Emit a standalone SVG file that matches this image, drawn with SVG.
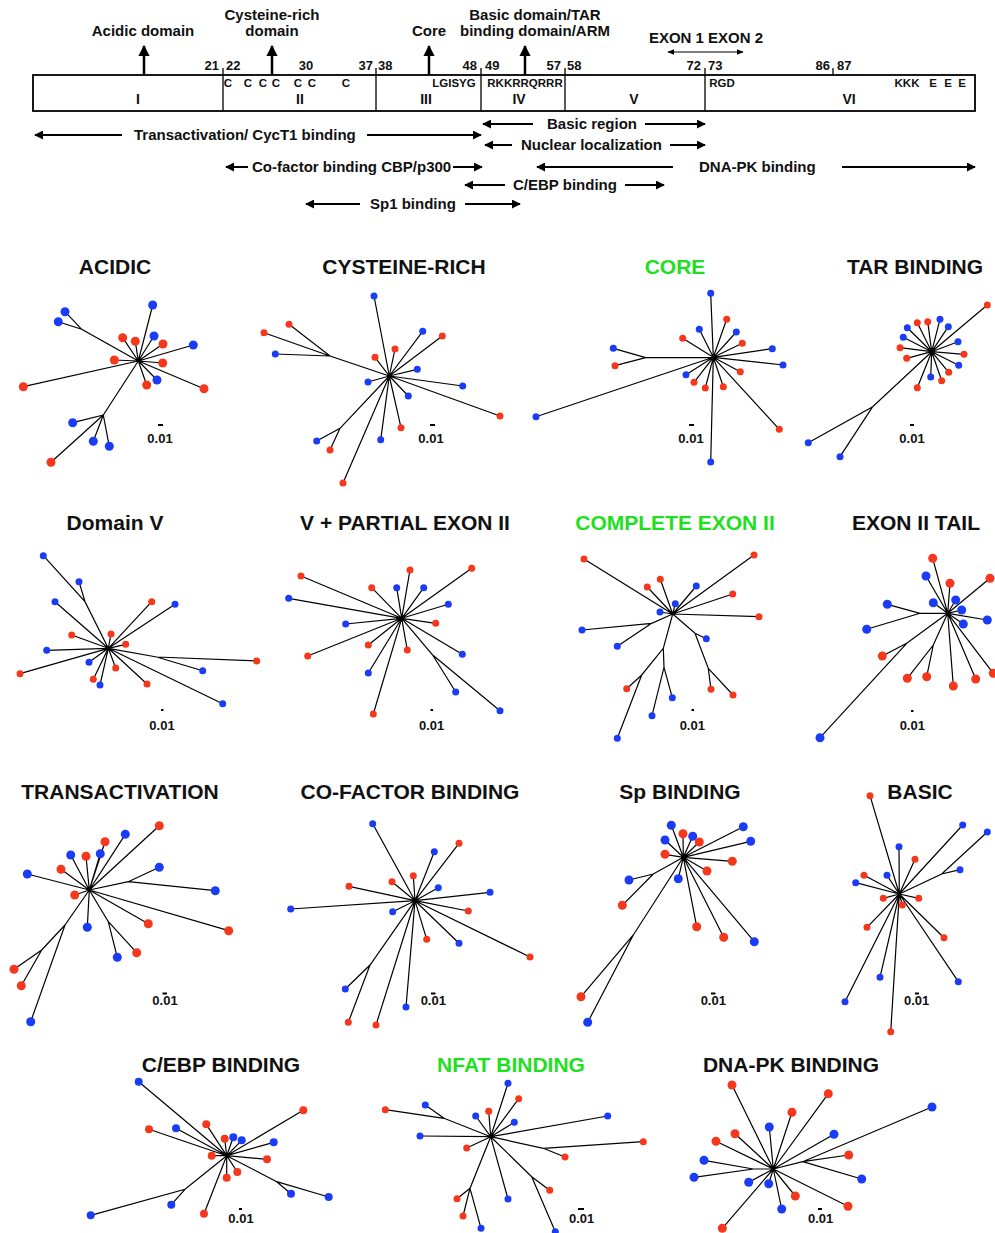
<svg xmlns="http://www.w3.org/2000/svg" width="995" height="1233" viewBox="0 0 995 1233">
<defs>
<style>
text{font-family:'Liberation Sans',Arial,sans-serif;font-weight:bold;fill:#111}
.lab{font-size:15px}
.num{font-size:13px}
.aa{font-size:11.5px}
.rn{font-size:14px;text-anchor:middle}
.ttl{font-size:21px;text-anchor:middle}
.grn{fill:#1ee01e}
.sc{font-size:13px;text-anchor:middle}
.e{stroke:#000;stroke-width:1.2;fill:none}
.r{fill:#f5381c}
.b{fill:#1b3cf7}
.ar{stroke:#000;stroke-width:2;fill:none}
.bar{stroke:#000;stroke-width:2}
</style>
<marker id="ah" viewBox="0 0 10 10" refX="9" refY="5" markerWidth="4.5" markerHeight="4.5" orient="auto-start-reverse"><path d="M0,0 L10,5 L0,10 z" fill="#000"/></marker>
<marker id="sh" viewBox="0 0 10 10" refX="9" refY="5" markerWidth="7" markerHeight="7" orient="auto-start-reverse"><path d="M0,1 L10,5 L0,9 z" fill="#000"/></marker>
</defs>
<rect width="995" height="1233" fill="#fff"/>

<!-- Domain map -->
<g id="domain-map">
<rect x="33" y="75" width="942" height="36" fill="none" stroke="#000" stroke-width="1.8"/>
<g stroke="#000" stroke-width="1.3">
<line x1="223" y1="68" x2="223" y2="111"/>
<line x1="376" y1="68" x2="376" y2="111"/>
<line x1="481" y1="68" x2="481" y2="111"/>
<line x1="565" y1="68" x2="565" y2="111"/>
<line x1="705" y1="68" x2="705" y2="111"/>
<line x1="833" y1="68" x2="833" y2="75"/>
</g>
<g class="num">
<text x="219" y="70" text-anchor="end">21</text><text x="226" y="70">22</text>
<text x="306" y="70" text-anchor="middle">30</text>
<text x="373" y="70" text-anchor="end">37</text><text x="378" y="70">38</text>
<text x="477" y="70" text-anchor="end">48</text><text x="485" y="70">49</text>
<text x="561" y="70" text-anchor="end">57</text><text x="567" y="70">58</text>
<text x="701" y="70" text-anchor="end">72</text><text x="708" y="70">73</text>
<text x="830" y="70" text-anchor="end">86</text><text x="837" y="70">87</text>
</g>
<g class="aa" text-anchor="middle">
<text x="228" y="87">C</text><text x="248" y="87">C</text><text x="263" y="87">C</text><text x="276" y="87">C</text><text x="298" y="87">C</text><text x="312" y="87">C</text><text x="346" y="87">C</text>
<text x="454" y="87">LGISYG</text><text x="525" y="87">RKKRRQRRR</text><text x="722" y="87">RGD</text>
<text x="907" y="87">KKK</text><text x="933" y="87">E</text><text x="948" y="87">E</text><text x="962" y="87">E</text>
</g>
<g>
<text class="rn" x="138" y="104">I</text><text class="rn" x="300" y="104">II</text><text class="rn" x="426" y="104">III</text>
<text class="rn" x="519" y="104">IV</text><text class="rn" x="634" y="104">V</text><text class="rn" x="849" y="104">VI</text>
</g>
</g>

<g id="domain-labels" class="lab" text-anchor="middle">
<text x="143" y="36">Acidic domain</text>
<text x="272" y="20">Cysteine-rich</text><text x="272" y="36">domain</text>
<text x="429" y="36">Core</text>
<text x="535" y="20">Basic domain/TAR</text><text x="535" y="36">binding domain/ARM</text>
<text x="706" y="43">EXON 1 EXON 2</text>
</g>

<g id="connectors">
<g stroke="#000" stroke-width="2.5" marker-end="url(#ah)">
<line x1="144" y1="75" x2="144" y2="46"/>
<line x1="272" y1="75" x2="272" y2="46"/>
<line x1="429" y1="75" x2="429" y2="46"/>
<line x1="525" y1="75" x2="525" y2="46"/>
</g>
<line x1="668" y1="52" x2="743" y2="52" stroke="#000" stroke-width="1" marker-start="url(#sh)" marker-end="url(#sh)"/>
<g class="ar" marker-end="url(#ah)">
<line x1="122" y1="135" x2="35" y2="135"/><line x1="367" y1="135" x2="481" y2="135"/>
<line x1="533" y1="124" x2="483" y2="124"/><line x1="645" y1="124" x2="705" y2="124"/>
<line x1="512" y1="145" x2="485" y2="145"/><line x1="670" y1="145" x2="705" y2="145"/>
<line x1="248" y1="167" x2="226" y2="167"/><line x1="453" y1="167" x2="482" y2="167"/>
<line x1="673" y1="167" x2="537" y2="167"/><line x1="842" y1="167" x2="975" y2="167"/>
<line x1="505" y1="185" x2="465" y2="185"/><line x1="625" y1="185" x2="664" y2="185"/>
<line x1="360" y1="204" x2="306" y2="204"/><line x1="465" y1="204" x2="520" y2="204"/>
</g>
</g>

<g id="region-labels" class="lab">
<text x="134" y="140">Transactivation/ CycT1 binding</text>
<text x="547" y="129">Basic region</text>
<text x="521" y="150">Nuclear localization</text>
<text x="252" y="172">Co-factor binding CBP/p300</text>
<text x="699" y="172">DNA-PK binding</text>
<text x="513" y="190">C/EBP binding</text>
<text x="370" y="209">Sp1 binding</text>
</g>

<!-- Row 1 -->
<g id="tree-acidic">
<text class="ttl" x="115" y="274">ACIDIC</text>
<path class="e" d="M138.3,361L152.7,305M138.3,361L81.7,329.3L65,311.7M81.7,329.3L58.3,321.7M138.3,361L122.7,337.7M138.3,361L135.3,341.3M138.3,361L154,336M138.3,361L163,344M138.3,361L193.3,345M138.3,361L114.3,360M138.3,361L162.7,363M138.3,361L157,380M138.3,361L146.7,385M138.3,361L204,388.7M138.3,361L23.3,386.7M138.3,361L103.3,415L72.7,422.7M103.3,415L93.3,441.3M103.3,415L109.3,446.3M103.3,415L51,462.3"/>
<g>
<circle class="b" cx="152.7" cy="305" r="4.5"/><circle class="b" cx="65" cy="311.7" r="4.5"/><circle class="b" cx="58.3" cy="321.7" r="4.5"/>
<circle class="r" cx="122.7" cy="337.7" r="4.5"/><circle class="r" cx="135.3" cy="341.3" r="4.5"/><circle class="b" cx="154" cy="336" r="4.5"/>
<circle class="r" cx="163" cy="344" r="4.5"/><circle class="b" cx="193.3" cy="345" r="4.5"/><circle class="r" cx="114.3" cy="360" r="4.5"/>
<circle class="r" cx="162.7" cy="363" r="4.5"/><circle class="b" cx="157" cy="380" r="4.5"/><circle class="r" cx="146.7" cy="385" r="4.5"/>
<circle class="r" cx="204" cy="388.7" r="4.5"/><circle class="r" cx="23.3" cy="386.7" r="4.5"/><circle class="b" cx="72.7" cy="422.7" r="4.5"/>
<circle class="b" cx="93.3" cy="441.3" r="4.5"/><circle class="b" cx="109.3" cy="446.3" r="4.5"/><circle class="r" cx="51" cy="462.3" r="4.5"/>
</g>
<line class="bar" x1="158" y1="425" x2="163" y2="425"/><text class="sc" x="160" y="443">0.01</text>
</g>

<g id="tree-cysteine-rich">
<text class="ttl" x="404" y="274">CYSTEINE-RICH</text>
<path class="e" d="M389.3,376L374,296M389.3,376L330,356L289,324.3M330,356L264,332.7M330,356L275.3,354M389.3,376L422.7,331.3M389.3,376L442.3,336M389.3,376L395,349M389.3,376L375,357.3M389.3,376L417.3,369.3M389.3,376L462.7,386M389.3,376L368,382M389.3,376L408.3,396M389.3,376L401,427.7M389.3,376L380.7,439.7M389.3,376L500,416M389.3,376L340,428.3L316.7,441M340,428.3L330,450M389.3,376L343,483"/>
<g>
<circle class="b" cx="374" cy="296" r="3.5"/><circle class="r" cx="289" cy="324.3" r="3.5"/><circle class="r" cx="264" cy="332.7" r="3.5"/>
<circle class="b" cx="275.3" cy="354" r="3.5"/><circle class="b" cx="422.7" cy="331.3" r="3.5"/><circle class="r" cx="442.3" cy="336" r="3.5"/>
<circle class="r" cx="395" cy="349" r="3.5"/><circle class="r" cx="375" cy="357.3" r="3.5"/><circle class="b" cx="417.3" cy="369.3" r="3.5"/>
<circle class="b" cx="462.7" cy="386" r="3.5"/><circle class="b" cx="368" cy="382" r="3.5"/><circle class="b" cx="408.3" cy="396" r="3.5"/>
<circle class="r" cx="401" cy="427.7" r="3.5"/><circle class="b" cx="380.7" cy="439.7" r="3.5"/><circle class="r" cx="500" cy="416" r="3.5"/>
<circle class="b" cx="316.7" cy="441" r="3.5"/><circle class="r" cx="330" cy="450" r="3.5"/><circle class="r" cx="343" cy="483" r="3.5"/>
</g>
<line class="bar" x1="430" y1="425" x2="435" y2="425"/><text class="sc" x="431" y="443">0.01</text>
</g>

<g id="tree-core">
<text class="ttl grn" x="675" y="274">CORE</text>
<path class="e" d="M713.3,357.3L710.7,293.3M713.3,357.3L726.7,319.3M713.3,357.3L699.3,329.3M713.3,357.3L736.3,332M713.3,357.3L682.7,338.3M713.3,357.3L742.3,343.3M713.3,357.3L772.3,348.7M713.3,357.3L783,365M713.3,357.3L740.3,371.7M713.3,357.3L686,374.7M713.3,357.3L694,382.3M713.3,357.3L705.3,388M713.3,357.3L723.3,386.7M713.3,357.3L779.3,429.3M713.3,357.3L710.7,462M713.3,357.3L536,416.7M713.3,357.3L645.7,357.7L613.3,348.3M645.7,357.7L615,365.7"/>
<g>
<circle class="b" cx="710.7" cy="293.3" r="3.5"/><circle class="r" cx="726.7" cy="319.3" r="3.5"/><circle class="b" cx="699.3" cy="329.3" r="3.5"/>
<circle class="b" cx="736.3" cy="332" r="3.5"/><circle class="r" cx="682.7" cy="338.3" r="3.5"/><circle class="r" cx="742.3" cy="343.3" r="3.5"/>
<circle class="b" cx="772.3" cy="348.7" r="3.5"/><circle class="b" cx="783" cy="365" r="3.5"/><circle class="r" cx="740.3" cy="371.7" r="3.5"/>
<circle class="b" cx="686" cy="374.7" r="3.5"/><circle class="r" cx="694" cy="382.3" r="3.5"/><circle class="r" cx="705.3" cy="388" r="3.5"/>
<circle class="r" cx="723.3" cy="386.7" r="3.5"/><circle class="r" cx="779.3" cy="429.3" r="3.5"/><circle class="b" cx="710.7" cy="462" r="3.5"/>
<circle class="b" cx="536" cy="416.7" r="3.5"/><circle class="b" cx="613.3" cy="348.3" r="3.5"/><circle class="r" cx="615" cy="365.7" r="3.5"/>
</g>
<line class="bar" x1="689" y1="425" x2="694" y2="425"/><text class="sc" x="691" y="443">0.01</text>
</g>

<g id="tree-tar-binding">
<text class="ttl" x="915" y="274">TAR BINDING</text>
<path class="e" d="M931.7,351.7L987.3,305M931.7,351.7L917.3,322.7M931.7,351.7L927.7,321.7M931.7,351.7L940,319.3M931.7,351.7L907.3,327.7M931.7,351.7L948.3,326.7M931.7,351.7L903.3,337.3M931.7,351.7L958,341.7M931.7,351.7L900,347.7M931.7,351.7L964,354.3M931.7,351.7L906.7,358.3M931.7,351.7L958.7,365.3M931.7,351.7L948.7,372.3M931.7,351.7L930.7,377M931.7,351.7L941.7,380.7M931.7,351.7L917.3,387.7M931.7,351.7L872.7,406.7L808.3,442.7M872.7,406.7L840,456.7"/>
<g>
<circle class="r" cx="987.3" cy="305" r="3.5"/><circle class="r" cx="917.3" cy="322.7" r="3.5"/><circle class="r" cx="927.7" cy="321.7" r="3.5"/>
<circle class="b" cx="940" cy="319.3" r="3.5"/><circle class="b" cx="907.3" cy="327.7" r="3.5"/><circle class="b" cx="948.3" cy="326.7" r="3.5"/>
<circle class="b" cx="903.3" cy="337.3" r="3.5"/><circle class="b" cx="958" cy="341.7" r="3.5"/><circle class="r" cx="900" cy="347.7" r="3.5"/>
<circle class="r" cx="964" cy="354.3" r="3.5"/><circle class="r" cx="906.7" cy="358.3" r="3.5"/><circle class="b" cx="958.7" cy="365.3" r="3.5"/>
<circle class="r" cx="948.7" cy="372.3" r="3.5"/><circle class="b" cx="930.7" cy="377" r="3.5"/><circle class="r" cx="941.7" cy="380.7" r="3.5"/>
<circle class="r" cx="917.3" cy="387.7" r="3.5"/><circle class="b" cx="808.3" cy="442.7" r="3.5"/><circle class="b" cx="840" cy="456.7" r="3.5"/>
</g>
<line class="bar" x1="910" y1="425" x2="914" y2="425"/><text class="sc" x="912" y="443">0.01</text>
</g>

<!-- Row 2 -->
<g id="tree-domain-v">
<text class="ttl" x="115" y="530">Domain V</text>
<path class="e" d="M108.3,648.3L85,601.7L43.3,555.7M85,601.7L79,581.7M108.3,648.3L55,601.7M108.3,648.3L151.7,601.7M108.3,648.3L175,604.3M108.3,648.3L71.7,635M108.3,648.3L111,634M108.3,648.3L125.7,644.3M108.3,648.3L46.7,650.3M108.3,648.3L156.7,657L256.7,661M156.7,657L202.7,670.7M108.3,648.3L20,673.7M108.3,648.3L89,662.3M108.3,648.3L115.7,668M108.3,648.3L93.3,679.3M108.3,648.3L100,685M108.3,648.3L147,684M108.3,648.3L222.7,703.7"/>
<g>
<circle class="b" cx="43.3" cy="555.7" r="3.5"/><circle class="b" cx="79" cy="581.7" r="3.5"/><circle class="b" cx="55" cy="601.7" r="3.5"/>
<circle class="r" cx="151.7" cy="601.7" r="3.5"/><circle class="b" cx="175" cy="604.3" r="3.5"/><circle class="r" cx="71.7" cy="635" r="3.5"/>
<circle class="r" cx="111" cy="634" r="3.5"/><circle class="r" cx="125.7" cy="644.3" r="3.5"/><circle class="b" cx="46.7" cy="650.3" r="3.5"/>
<circle class="r" cx="256.7" cy="661" r="3.5"/><circle class="b" cx="202.7" cy="670.7" r="3.5"/><circle class="r" cx="20" cy="673.7" r="3.5"/>
<circle class="b" cx="89" cy="662.3" r="3.5"/><circle class="r" cx="115.7" cy="668" r="3.5"/><circle class="r" cx="93.3" cy="679.3" r="3.5"/>
<circle class="b" cx="100" cy="685" r="3.5"/><circle class="r" cx="147" cy="684" r="3.5"/><circle class="b" cx="222.7" cy="703.7" r="3.5"/>
</g>
<line class="bar" x1="161" y1="710" x2="163.5" y2="710"/><text class="sc" x="162" y="730">0.01</text>
</g>

<g id="tree-v-partial-exon-ii">
<text class="ttl" x="405" y="530">V + PARTIAL EXON II</text>
<path class="e" d="M401.7,618.3L301,576M401.7,618.3L288.7,598.3M401.7,618.3L410,570M401.7,618.3L471.7,568.3M401.7,618.3L371.7,587.7M401.7,618.3L396.7,587.7M401.7,618.3L423.7,587.7M401.7,618.3L448.3,604.3M401.7,618.3L345.7,624M401.7,618.3L435.7,623.3M401.7,618.3L307.7,656M401.7,618.3L368.3,645M401.7,618.3L407.3,650M401.7,618.3L462.3,654.3M401.7,618.3L368.3,673M401.7,618.3L373.3,714M401.7,618.3L432.7,655L455.7,692M432.7,655L500,710.7"/>
<g>
<circle class="r" cx="301" cy="576" r="3.5"/><circle class="b" cx="288.7" cy="598.3" r="3.5"/><circle class="r" cx="410" cy="570" r="3.5"/>
<circle class="r" cx="471.7" cy="568.3" r="3.5"/><circle class="r" cx="371.7" cy="587.7" r="3.5"/><circle class="b" cx="396.7" cy="587.7" r="3.5"/>
<circle class="b" cx="423.7" cy="587.7" r="3.5"/><circle class="b" cx="448.3" cy="604.3" r="3.5"/><circle class="b" cx="345.7" cy="624" r="3.5"/>
<circle class="r" cx="435.7" cy="623.3" r="3.5"/><circle class="r" cx="307.7" cy="656" r="3.5"/><circle class="r" cx="368.3" cy="645" r="3.5"/>
<circle class="r" cx="407.3" cy="650" r="3.5"/><circle class="b" cx="462.3" cy="654.3" r="3.5"/><circle class="b" cx="368.3" cy="673" r="3.5"/>
<circle class="r" cx="373.3" cy="714" r="3.5"/><circle class="b" cx="455.7" cy="692" r="3.5"/><circle class="b" cx="500" cy="710.7" r="3.5"/>
</g>
<line class="bar" x1="430.5" y1="710" x2="433" y2="710"/><text class="sc" x="431.7" y="730">0.01</text>
</g>

<g id="tree-complete-exon-ii">
<text class="ttl grn" x="675" y="530">COMPLETE EXON II</text>
<path class="e" d="M672.7,614L584,559M672.7,614L754,555M672.7,614L660.3,579.3M672.7,614L647.3,587M672.7,614L696.3,586M672.7,614L732.7,594M672.7,614L675.3,603.7M672.7,614L660,612M672.7,614L759,616.7M672.7,614L651.7,623.3L582,630M651.7,623.3L617.3,646.3M672.7,614L695,633.3L706.3,638.7M695,633.3L708.3,668.3L711,689.3M708.3,668.3L733,695M672.7,614L663.3,648.3L641.7,675L626.7,688.7M641.7,675L617.3,738.3M663.3,648.3L664,667.3L652,715.7M664,667.3L672.3,697.7"/>
<g>
<circle class="r" cx="584" cy="559" r="3.5"/><circle class="r" cx="754" cy="555" r="3.5"/><circle class="r" cx="660.3" cy="579.3" r="3.5"/>
<circle class="r" cx="647.3" cy="587" r="3.5"/><circle class="b" cx="696.3" cy="586" r="3.5"/><circle class="r" cx="732.7" cy="594" r="3.5"/>
<circle class="b" cx="675.3" cy="603.7" r="3.5"/><circle class="b" cx="660" cy="612" r="3.5"/><circle class="r" cx="759" cy="616.7" r="3.5"/>
<circle class="b" cx="582" cy="630" r="3.5"/><circle class="b" cx="617.3" cy="646.3" r="3.5"/><circle class="b" cx="706.3" cy="638.7" r="3.5"/>
<circle class="r" cx="711" cy="689.3" r="3.5"/><circle class="r" cx="733" cy="695" r="3.5"/><circle class="r" cx="626.7" cy="688.7" r="3.5"/>
<circle class="b" cx="617.3" cy="738.3" r="3.5"/><circle class="b" cx="652" cy="715.7" r="3.5"/><circle class="b" cx="672.3" cy="697.7" r="3.5"/>
</g>
<line class="bar" x1="691.5" y1="710" x2="694" y2="710"/><text class="sc" x="692.3" y="730">0.01</text>
</g>

<g id="tree-exon-ii-tail">
<text class="ttl" x="916" y="530">EXON II TAIL</text>
<path class="e" d="M947.7,613.3L932.7,558.3M947.7,613.3L926,576M947.7,613.3L950,583.3M947.7,613.3L990,578.3M947.7,613.3L933.3,602.7M947.7,613.3L955.7,600M947.7,613.3L961.7,610M947.7,613.3L987.3,620M947.7,613.3L963.3,624M947.7,613.3L920,613.3L887.3,604.3M920,613.3L866.7,629.3M947.7,613.3L906.7,643.3L882.3,656M906.7,643.3L820,737.7M947.7,613.3L933.3,645L907.3,678.3M933.3,645L926.7,676.7M947.7,613.3L953.3,686M947.7,613.3L975.7,679M947.7,613.3L993.3,673.3"/>
<g>
<circle class="r" cx="932.7" cy="558.3" r="4.5"/><circle class="b" cx="926" cy="576" r="4.5"/><circle class="r" cx="950" cy="583.3" r="4.5"/>
<circle class="r" cx="990" cy="578.3" r="4.5"/><circle class="b" cx="933.3" cy="602.7" r="4.5"/><circle class="b" cx="955.7" cy="600" r="4.5"/>
<circle class="b" cx="961.7" cy="610" r="4.5"/><circle class="b" cx="987.3" cy="620" r="4.5"/><circle class="b" cx="963.3" cy="624" r="4.5"/>
<circle class="b" cx="887.3" cy="604.3" r="4.5"/><circle class="b" cx="866.7" cy="629.3" r="4.5"/><circle class="r" cx="882.3" cy="656" r="4.5"/>
<circle class="b" cx="820" cy="737.7" r="4.5"/><circle class="r" cx="907.3" cy="678.3" r="4.5"/><circle class="r" cx="926.7" cy="676.7" r="4.5"/>
<circle class="r" cx="953.3" cy="686" r="4.5"/><circle class="r" cx="975.7" cy="679" r="4.5"/><circle class="r" cx="993.3" cy="673.3" r="4.5"/>
</g>
<line class="bar" x1="911" y1="711" x2="913.5" y2="711"/><text class="sc" x="912.3" y="730">0.01</text>
</g>

<!-- Row 3 -->
<g id="tree-transactivation">
<text class="ttl" x="120" y="799">TRANSACTIVATION</text>
<path class="e" d="M89.3,890L159.3,825.7M89.3,890L125.3,834.3M89.3,890L105,841.7M89.3,890L70.7,855M89.3,890L86,856.3M89.3,890L100.3,853.7M89.3,890L61,869.3M89.3,890L27.3,874M89.3,890L128.3,881.7L159.3,867.3M128.3,881.7L215.3,890.7M89.3,890L74.7,895M89.3,890L228.7,930.7M89.3,890L148.3,923.7M89.3,890L87.3,927.3M89.3,890L108.3,921.7L117.3,957.3M108.3,921.7L136.7,952.7M89.3,890L65,925L30.7,1021.7M65,925L41.7,950L14,969.3M41.7,950L21.3,985.7"/>
<g>
<circle class="r" cx="159.3" cy="825.7" r="4.5"/><circle class="b" cx="125.3" cy="834.3" r="4.5"/><circle class="r" cx="105" cy="841.7" r="4.5"/>
<circle class="b" cx="70.7" cy="855" r="4.5"/><circle class="r" cx="86" cy="856.3" r="4.5"/><circle class="b" cx="100.3" cy="853.7" r="4.5"/>
<circle class="r" cx="61" cy="869.3" r="4.5"/><circle class="b" cx="27.3" cy="874" r="4.5"/><circle class="b" cx="159.3" cy="867.3" r="4.5"/>
<circle class="b" cx="215.3" cy="890.7" r="4.5"/><circle class="r" cx="74.7" cy="895" r="4.5"/><circle class="r" cx="228.7" cy="930.7" r="4.5"/>
<circle class="r" cx="148.3" cy="923.7" r="4.5"/><circle class="b" cx="87.3" cy="927.3" r="4.5"/><circle class="b" cx="117.3" cy="957.3" r="4.5"/>
<circle class="r" cx="136.7" cy="952.7" r="4.5"/><circle class="b" cx="30.7" cy="1021.7" r="4.5"/><circle class="r" cx="14" cy="969.3" r="4.5"/>
<circle class="r" cx="21.3" cy="985.7" r="4.5"/>
</g>
<line class="bar" x1="162.5" y1="993.5" x2="167" y2="993.5"/><text class="sc" x="165" y="1005">0.01</text>
</g>

<g id="tree-co-factor-binding">
<text class="ttl" x="410" y="799">CO-FACTOR BINDING</text>
<path class="e" d="M415,900.7L372.7,823.7M415,900.7L459,843.3M415,900.7L434.3,851.7M415,900.7L413.3,875.7M415,900.7L392,881.7M415,900.7L349,886.3M415,900.7L438.3,887.7M415,900.7L490,892.3M415,900.7L290.7,909M415,900.7L392.7,911.7M415,900.7L468.3,911M415,900.7L426.7,939.3M415,900.7L459,943.3M415,900.7L530,957M415,900.7L406,1007M415,900.7L376,1025M415,900.7L370,965L345.3,989M370,965L348.3,1022.3"/>
<g>
<circle class="b" cx="372.7" cy="823.7" r="3.5"/><circle class="r" cx="459" cy="843.3" r="3.5"/><circle class="b" cx="434.3" cy="851.7" r="3.5"/>
<circle class="r" cx="413.3" cy="875.7" r="3.5"/><circle class="r" cx="392" cy="881.7" r="3.5"/><circle class="r" cx="349" cy="886.3" r="3.5"/>
<circle class="b" cx="438.3" cy="887.7" r="3.5"/><circle class="b" cx="490" cy="892.3" r="3.5"/><circle class="b" cx="290.7" cy="909" r="3.5"/>
<circle class="b" cx="392.7" cy="911.7" r="3.5"/><circle class="r" cx="468.3" cy="911" r="3.5"/><circle class="r" cx="426.7" cy="939.3" r="3.5"/>
<circle class="b" cx="459" cy="943.3" r="3.5"/><circle class="r" cx="530" cy="957" r="3.5"/><circle class="b" cx="406" cy="1007" r="3.5"/>
<circle class="r" cx="376" cy="1025" r="3.5"/><circle class="b" cx="345.3" cy="989" r="3.5"/><circle class="r" cx="348.3" cy="1022.3" r="3.5"/>
</g>
<line class="bar" x1="431" y1="993.5" x2="435.5" y2="993.5"/><text class="sc" x="433.3" y="1005">0.01</text>
</g>

<g id="tree-sp-binding">
<text class="ttl" x="680" y="799">Sp BINDING</text>
<path class="e" d="M683.3,857.3L671.3,825.3M683.3,857.3L683,833.7M683.3,857.3L692.7,836.3M683.3,857.3L699.3,842M683.3,857.3L665,840M683.3,857.3L743.3,826.7M683.3,857.3L750.7,841.3M683.3,857.3L665,854.3M683.3,857.3L732.3,861.3M683.3,857.3L707,871M683.3,857.3L678.3,878.7M683.3,857.3L653.3,874L629,880M653.3,874L622.3,905.3M683.3,857.3L696.7,926.7M683.3,857.3L723.7,937.3M683.3,857.3L754.3,941.7M683.3,857.3L633.3,935L581,996.7M633.3,935L587.7,1022.3"/>
<g>
<circle class="b" cx="671.3" cy="825.3" r="4.5"/><circle class="r" cx="683" cy="833.7" r="4.5"/><circle class="b" cx="692.7" cy="836.3" r="4.5"/>
<circle class="r" cx="699.3" cy="842" r="4.5"/><circle class="b" cx="665" cy="840" r="4.5"/><circle class="b" cx="743.3" cy="826.7" r="4.5"/>
<circle class="b" cx="750.7" cy="841.3" r="4.5"/><circle class="r" cx="665" cy="854.3" r="4.5"/><circle class="r" cx="732.3" cy="861.3" r="4.5"/>
<circle class="r" cx="707" cy="871" r="4.5"/><circle class="b" cx="678.3" cy="878.7" r="4.5"/><circle class="b" cx="629" cy="880" r="4.5"/>
<circle class="r" cx="622.3" cy="905.3" r="4.5"/><circle class="r" cx="696.7" cy="926.7" r="4.5"/><circle class="r" cx="723.7" cy="937.3" r="4.5"/>
<circle class="b" cx="754.3" cy="941.7" r="4.5"/><circle class="r" cx="581" cy="996.7" r="4.5"/><circle class="b" cx="587.7" cy="1022.3" r="4.5"/>
</g>
<line class="bar" x1="711" y1="993.5" x2="715.5" y2="993.5"/><text class="sc" x="713.3" y="1005">0.01</text>
</g>

<g id="tree-basic">
<text class="ttl" x="920" y="799">BASIC</text>
<path class="e" d="M899.3,894L870,795.7M899.3,894L962.7,825M899.3,894L941.7,874L987.3,832M941.7,874L960,869.7M899.3,894L899,846.7M899.3,894L915,859.3M899.3,894L864,875.3M899.3,894L887,875.3M899.3,894L855.7,882.7M899.3,894L883.3,898.3M899.3,894L918.7,898.3M899.3,894L902.3,905M899.3,894L867,927.3M899.3,894L944,937.7M899.3,894L880,977.3M899.3,894L958.3,981.7M899.3,894L845,1001.7M899.3,894L890.7,1031.7"/>
<g>
<circle class="r" cx="870" cy="795.7" r="3.5"/><circle class="b" cx="962.7" cy="825" r="3.5"/><circle class="b" cx="987.3" cy="832" r="3.5"/>
<circle class="b" cx="960" cy="869.7" r="3.5"/><circle class="b" cx="899" cy="846.7" r="3.5"/><circle class="r" cx="915" cy="859.3" r="3.5"/>
<circle class="r" cx="864" cy="875.3" r="3.5"/><circle class="b" cx="887" cy="875.3" r="3.5"/><circle class="b" cx="855.7" cy="882.7" r="3.5"/>
<circle class="r" cx="883.3" cy="898.3" r="3.5"/><circle class="r" cx="918.7" cy="898.3" r="3.5"/><circle class="r" cx="902.3" cy="905" r="3.5"/>
<circle class="r" cx="867" cy="927.3" r="3.5"/><circle class="r" cx="944" cy="937.7" r="3.5"/><circle class="b" cx="880" cy="977.3" r="3.5"/>
<circle class="b" cx="958.3" cy="981.7" r="3.5"/><circle class="b" cx="845" cy="1001.7" r="3.5"/><circle class="r" cx="890.7" cy="1031.7" r="3.5"/>
</g>
<line class="bar" x1="915" y1="993.5" x2="919" y2="993.5"/><text class="sc" x="916.7" y="1005">0.01</text>
</g>

<!-- Row 4 -->
<g id="tree-cebp-binding">
<text class="ttl" x="221" y="1072">C/EBP BINDING</text>
<path class="e" d="M226.7,1155.7L138.7,1081.7M226.7,1155.7L303.3,1110.3M226.7,1155.7L149,1129.3M226.7,1155.7L176,1128.3M226.7,1155.7L206.3,1124.3M226.7,1155.7L224.7,1138.7M226.7,1155.7L233.3,1137.3M226.7,1155.7L241.7,1140.3M226.7,1155.7L273.7,1142.3M226.7,1155.7L211.7,1155.7M226.7,1155.7L267,1159.3M226.7,1155.7L237.3,1172M226.7,1155.7L226.7,1177.7M226.7,1155.7L276.7,1181.7L291,1193.7M276.7,1181.7L328.7,1197M226.7,1155.7L204,1213.7M226.7,1155.7L185,1189.3L90.7,1215.3M185,1189.3L171.3,1204.7"/>
<g>
<circle class="b" cx="138.7" cy="1081.7" r="4"/><circle class="r" cx="303.3" cy="1110.3" r="4"/><circle class="r" cx="149" cy="1129.3" r="4"/>
<circle class="b" cx="176" cy="1128.3" r="4"/><circle class="r" cx="206.3" cy="1124.3" r="4"/><circle class="r" cx="224.7" cy="1138.7" r="4"/>
<circle class="b" cx="233.3" cy="1137.3" r="4"/><circle class="b" cx="241.7" cy="1140.3" r="4"/><circle class="b" cx="273.7" cy="1142.3" r="4"/>
<circle class="r" cx="211.7" cy="1155.7" r="4"/><circle class="r" cx="267" cy="1159.3" r="4"/><circle class="r" cx="237.3" cy="1172" r="4"/>
<circle class="r" cx="226.7" cy="1177.7" r="4"/><circle class="b" cx="291" cy="1193.7" r="4"/><circle class="b" cx="328.7" cy="1197" r="4"/>
<circle class="r" cx="204" cy="1213.7" r="4"/><circle class="b" cx="90.7" cy="1215.3" r="4"/><circle class="b" cx="171.3" cy="1204.7" r="4"/>
</g>
<line class="bar" x1="239" y1="1209" x2="242" y2="1209"/><text class="sc" x="241" y="1223">0.01</text>
</g>

<g id="tree-nfat-binding">
<text class="ttl grn" x="511" y="1072">NFAT BINDING</text>
<path class="e" d="M490.7,1136.7L508,1083.3M490.7,1136.7L518.7,1098.7M490.7,1136.7L444,1118.3L385.3,1109.7M444,1118.3L425.3,1105M490.7,1136.7L475.7,1116M490.7,1136.7L488.7,1111.3M490.7,1136.7L514.3,1122.3M490.7,1136.7L607.7,1116M490.7,1136.7L420,1136M490.7,1136.7L466.7,1148M490.7,1136.7L543.3,1148.3L643.3,1141.7M543.3,1148.3L565,1157M490.7,1136.7L508,1199M490.7,1136.7L531.7,1176.7L549.7,1190.3M531.7,1176.7L555.3,1231.7M490.7,1136.7L470,1188.3L457,1198.7M470,1188.3L463,1216M470,1188.3L481,1228.3"/>
<g>
<circle class="b" cx="508" cy="1083.3" r="3.5"/><circle class="r" cx="518.7" cy="1098.7" r="3.5"/><circle class="r" cx="385.3" cy="1109.7" r="3.5"/>
<circle class="b" cx="425.3" cy="1105" r="3.5"/><circle class="b" cx="475.7" cy="1116" r="3.5"/><circle class="r" cx="488.7" cy="1111.3" r="3.5"/>
<circle class="b" cx="514.3" cy="1122.3" r="3.5"/><circle class="b" cx="607.7" cy="1116" r="3.5"/><circle class="b" cx="420" cy="1136" r="3.5"/>
<circle class="r" cx="466.7" cy="1148" r="3.5"/><circle class="r" cx="643.3" cy="1141.7" r="3.5"/><circle class="r" cx="565" cy="1157" r="3.5"/>
<circle class="b" cx="508" cy="1199" r="3.5"/><circle class="r" cx="549.7" cy="1190.3" r="3.5"/><circle class="b" cx="555.3" cy="1231.7" r="3.5"/>
<circle class="r" cx="457" cy="1198.7" r="3.5"/><circle class="r" cx="463" cy="1216" r="3.5"/><circle class="b" cx="481" cy="1228.3" r="3.5"/>
</g>
<line class="bar" x1="578" y1="1209" x2="584" y2="1209"/><text class="sc" x="581.7" y="1223">0.01</text>
</g>

<g id="tree-dna-pk-binding">
<text class="ttl" x="791" y="1072">DNA-PK BINDING</text>
<path class="e" d="M773.3,1169L732,1085M773.3,1169L828.3,1093.7M773.3,1169L792,1112.3M773.3,1169L769.3,1127M773.3,1169L735,1133.7M773.3,1169L716,1141.3M773.3,1169L834,1134.3M773.3,1169L802.7,1161.7L932,1107M802.7,1161.7L848.7,1155M802.7,1161.7L861.7,1179M773.3,1169L753.3,1169L704,1160.3M753.3,1169L694,1177.3M773.3,1169L748.7,1182.3M773.3,1169L768.7,1183.7M773.3,1169L795.3,1196M773.3,1169L781.7,1209M773.3,1169L848,1206.3M773.3,1169L722.3,1228.3"/>
<g>
<circle class="r" cx="732" cy="1085" r="4.5"/><circle class="r" cx="828.3" cy="1093.7" r="4.5"/><circle class="r" cx="792" cy="1112.3" r="4.5"/>
<circle class="b" cx="769.3" cy="1127" r="4.5"/><circle class="r" cx="735" cy="1133.7" r="4.5"/><circle class="r" cx="716" cy="1141.3" r="4.5"/>
<circle class="b" cx="834" cy="1134.3" r="4.5"/><circle class="b" cx="932" cy="1107" r="4.5"/><circle class="r" cx="848.7" cy="1155" r="4.5"/>
<circle class="b" cx="861.7" cy="1179" r="4.5"/><circle class="b" cx="704" cy="1160.3" r="4.5"/><circle class="b" cx="694" cy="1177.3" r="4.5"/>
<circle class="b" cx="748.7" cy="1182.3" r="4.5"/><circle class="b" cx="768.7" cy="1183.7" r="4.5"/><circle class="r" cx="795.3" cy="1196" r="4.5"/>
<circle class="b" cx="781.7" cy="1209" r="4.5"/><circle class="r" cx="848" cy="1206.3" r="4.5"/><circle class="r" cx="722.3" cy="1228.3" r="4.5"/>
</g>
<line class="bar" x1="818" y1="1209" x2="822" y2="1209"/><text class="sc" x="820.7" y="1223">0.01</text>
</g>
</svg>
